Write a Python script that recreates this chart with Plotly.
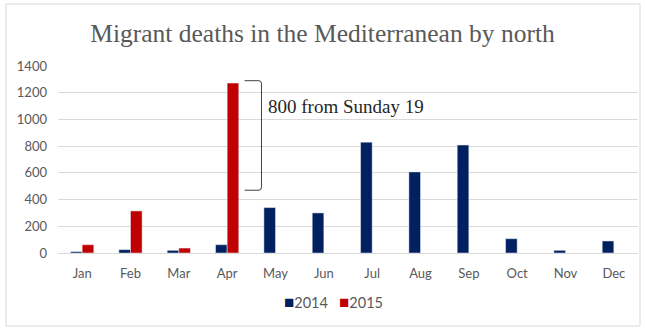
import plotly.graph_objects as go

months = ["Jan", "Feb", "Mar", "Apr", "May", "Jun", "Jul", "Aug", "Sep", "Oct", "Nov", "Dec"]
deaths_2014 = [10, 25, 20, 62, 340, 300, 830, 607, 808, 107, 20, 90]
deaths_2015 = [62, 315, 37, 1272, None, None, None, None, None, None, None, None]
y_ticks = [0, 200, 400, 600, 800, 1000, 1200, 1400]
series_names = ["2014", "2015"]
series_colors = ["#002060", "#c00000"]
note_text = "800 from Sunday 19"
bracket_top = 1290
bracket_bottom = 470

fig = go.Figure()
fig.add_trace(go.Bar(x=months, y=deaths_2014, name=series_names[0], marker_color=series_colors[0]))
fig.add_trace(go.Bar(x=months, y=deaths_2015, name=series_names[1], marker_color=series_colors[1]))

W, H = 645, 328
l, r, t, b = 58, 7, 66, 75
pw, ph = W - l - r, H - t - b

def px_x(v):
    return (v - l) / pw

def px_y(v):
    return (H - b - v) / ph

legend_text = "&nbsp;&nbsp;&nbsp;".join(
    f"<span style='color:{c};font-size:17px'>■</span>{n}" for n, c in zip(series_names, series_colors)
)

fig.update_layout(
    width=W, height=H,
    margin=dict(l=l, r=r, t=t, b=b),
    paper_bgcolor="white", plot_bgcolor="white",
    barmode="group", bargap=0.52, bargroupgap=0.0,
    title=dict(text="Migrant deaths in the Mediterranean by north",
               x=0.5, xanchor="center", y=1 - 33 / H, yanchor="middle",
               font=dict(family="Liberation Serif", size=25.5, color="#595959")),
    font=dict(family="Lato", size=13, color="#595959"),
    showlegend=False,
    xaxis=dict(showgrid=False, showline=True, linecolor="#d9d9d9", linewidth=1,
               ticks="", ticklabelstandoff=8, tickfont=dict(size=13, color="#595959")),
    yaxis=dict(range=[0, 1400], tickvals=y_ticks, showgrid=True, gridcolor="#d9d9d9",
               gridwidth=1, zeroline=False, showline=False, ticks="",
               ticklabelstandoff=10, tickfont=dict(size=13, color="#595959")),
    shapes=[
        dict(type="rect", xref="paper", yref="paper",
             x0=px_x(6), x1=px_x(640), y0=px_y(326), y1=px_y(4),
             line=dict(color="#d9d9d9", width=1), fillcolor="rgba(0,0,0,0)", layer="below"),
        dict(type="path", xref="x", yref="y",
             path=f"M 3.36,{bracket_top} L 3.66,{bracket_top} Q 3.71,{bracket_top} 3.71,{bracket_top-25} "
                  f"L 3.71,{bracket_bottom+25} Q 3.71,{bracket_bottom} 3.66,{bracket_bottom} L 3.36,{bracket_bottom}",
             line=dict(color="#404040", width=1)),
    ],
    annotations=[
        dict(x=3.8, y=1100, xref="x", yref="y", text=note_text, showarrow=False,
             xanchor="left", yanchor="middle",
             font=dict(family="Liberation Serif", size=19, color="#262626")),
        dict(x=px_x(333), y=px_y(301), xref="paper", yref="paper", text=legend_text,
             showarrow=False, xanchor="center", yanchor="middle",
             font=dict(family="Lato", size=14.5, color="#595959")),
    ],
)

fig.write_html("out.html")
